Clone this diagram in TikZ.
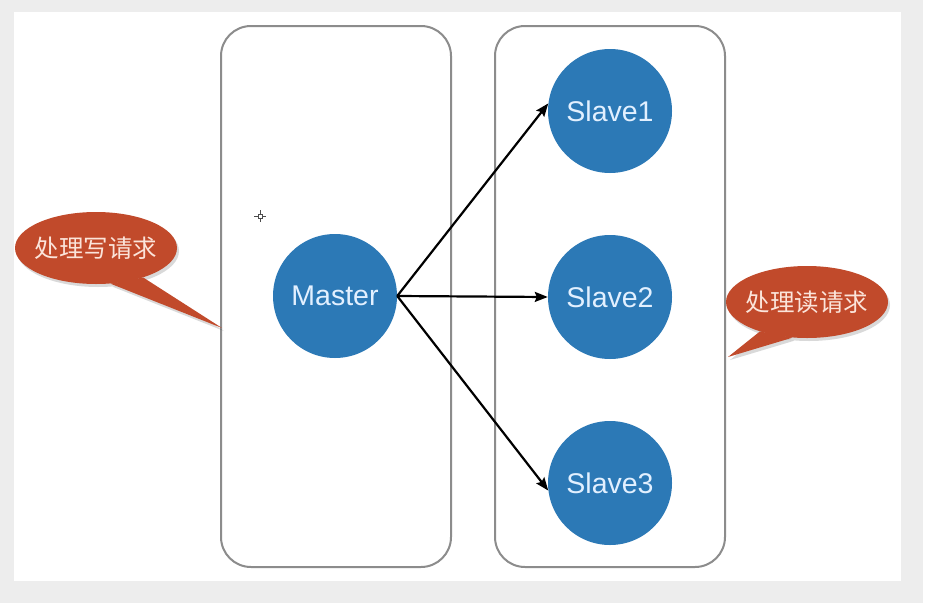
\documentclass[tikz,border=0pt]{standalone}
\usepackage{fontspec}
\setmainfont{Liberation Sans}
\newfontfamily\cjk{Noto Sans CJK SC}
\usetikzlibrary{shapes.geometric,arrows.meta}
\definecolor{bgray}{HTML}{EDEDED}
\definecolor{boxline}{HTML}{8C8C8C}
\definecolor{nodeblue}{HTML}{2C79B6}
\definecolor{nodetext}{HTML}{E2F0FF}
\definecolor{bubblered}{HTML}{C14A2B}
\definecolor{bubbletext}{HTML}{FBE4DA}
\tikzset{
  panel/.style={draw=boxline, line width=2pt, rounded corners=30pt, minimum width=230, minimum height=541, inner sep=0},
  circ/.style={circle, fill=nodeblue, text=nodetext, minimum size=124, inner sep=0, font=\fontsize{28.5}{32}\selectfont},
  bubble/.style={ellipse, fill=bubblered, minimum width=162, minimum height=72, inner sep=0},
  bubbleshade/.style={ellipse, fill=black, opacity=0.15, minimum width=162, minimum height=72, inner sep=0},
  bubbletxt/.style={text=bubbletext, inner sep=0, font=\cjk\fontsize{24.5}{28}\selectfont},
  arr/.style={line width=2.2pt, -{Stealth[length=13pt,width=10pt,inset=2pt]}}
}
\begin{document}
\begin{tikzpicture}[x=1pt,y=-1pt]
\useasboundingbox (0,0) rectangle (936,613);
\fill[white] (0,0) rectangle (936,613);
\fill[bgray] (0,0) rectangle (923,603);
\fill[white] (14,12) rectangle (901,581);
% panels
\node[panel] (lpanel) at (336,296.5) {};
\node[panel] (rpanel) at (610,296.5) {};
% nodes
\node[circ] (master) at (335,296) {Master};
\node[circ] (s1) at (610,111) {Slave1};
\node[circ] (s2) at (610,297) {Slave2};
\node[circ] (s3) at (610,483) {Slave3};
\draw[arr] (master.east) -- (s1.173);
\draw[arr] (master.east) -- (s2.west);
\draw[arr] (master.east) -- (s3.187);
% left bubble
\coordinate (ltip) at (222,328);
\coordinate (ltips) at (224,331);
\node[bubbleshade] (wbs) at (98,251) {};
\fill[black, opacity=0.15] (wbs.-68) -- (ltips) -- (wbs.-32) -- cycle;
\node[bubble] (wb) at (96,248) {};
\fill[bubblered] (wb.-68) -- (ltip) -- (wb.-32) -- cycle;
\node[bubbletxt] (wbt) at (wb.center) {处理写请求};
% right bubble
\coordinate (rtip) at (728,357);
\coordinate (rtips) at (730,360);
\node[bubbleshade] (rbs) at (809,305) {};
\fill[black, opacity=0.15] (rbs.-148) -- (rtips) -- (rbs.-112) -- cycle;
\node[bubble] (rb) at (807,302) {};
\fill[bubblered] (rb.-148) -- (rtip) -- (rb.-112) -- cycle;
\node[bubbletxt] (rbt) at (rb.center) {处理读请求};
% cursor
\coordinate (cur) at (260,216);
\draw[black!70, line width=0.8pt] ([xshift=-6pt]cur) -- ([xshift=6pt]cur) ([yshift=-6pt]cur) -- ([yshift=6pt]cur);
\filldraw[fill=white, draw=black!70, line width=0.6pt] ([shift={(-2,-2)}]cur) rectangle ([shift={(2,2)}]cur);
\end{tikzpicture}
\end{document}
